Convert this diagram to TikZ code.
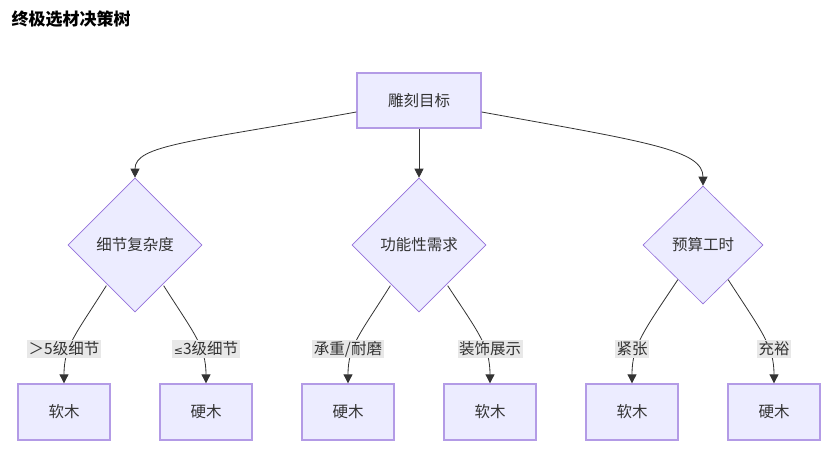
\documentclass[tikz,border=0pt]{standalone}
\usepackage{fontspec}
\setmainfont{Noto Sans CJK SC}
\newfontfamily\symfont{DejaVu Sans}
\usetikzlibrary{shapes.geometric,arrows.meta}
\definecolor{nodefill}{HTML}{ECECFF}
\definecolor{nodeline}{HTML}{9370DB}
\definecolor{edgecol}{HTML}{333333}
\definecolor{lblfill}{HTML}{E8E8E8}
\begin{document}
\begin{tikzpicture}[x=1pt,y=-1pt,
  every node/.style={font=\fontsize{15.5}{18}\selectfont, text=edgecol},
  box/.style={draw=nodeline!70, line width=1.3pt, fill=nodefill, minimum width=92pt, minimum height=56pt, inner sep=0pt},
  topbox/.style={box, minimum width=124pt, minimum height=55pt},
  choice/.style={diamond, draw=nodeline, line width=0.6pt, fill=nodefill, inner sep=0pt, aspect=1},
  lbl/.style={fill=lblfill, inner sep=1.5pt, font=\fontsize{15.5}{18}\selectfont},
  edge/.style={draw=edgecol, line width=0.8pt, -{Triangle[length=9pt,width=9pt]}}
]
\useasboundingbox (0,0) rectangle (840,460);
\node[anchor=west, font=\fontsize{17}{20}\selectfont\bfseries, text=black] (title) at (8,19) {终极选材决策树};

\node[topbox] (root) at (419,100.5) {雕刻目标};
\node[choice, minimum width=134pt, minimum height=134pt] (d1) at (135,245) {细节复杂度};
\node[choice, minimum width=134pt, minimum height=134pt] (d2) at (419,245) {功能性需求};
\node[choice, minimum width=120pt, minimum height=118pt] (d3) at (703,245) {预算工时};

\node[box] (b1) at (64,412) {软木};
\node[box] (b2) at (206,412) {硬木};
\node[box] (b3) at (348,412) {硬木};
\node[box] (b4) at (490,412) {软木};
\node[box] (b5) at (632,412) {软木};
\node[box] (b6) at (774,412) {硬木};

\draw[edge] (root.west |- 0,112) .. controls (190,142) and (135,145) .. (d1.north);
\draw[edge] (root.south) -- (d2.north);
\draw[edge] (root.east |- 0,112) .. controls (648,142) and (703,150) .. (d3.north);

\draw[edge] (d1.south west) ++(5,7) .. controls (76,334) and (64,346) .. (b1.north);
\draw[edge] (d1.south east) ++(-5,7) .. controls (193,332) and (206,346) .. (b2.north);
\draw[edge] (d2.south west) ++(5,7) .. controls (360,334) and (348,346) .. (b3.north);
\draw[edge] (d2.south east) ++(-5,7) .. controls (478,332) and (490,346) .. (b4.north);
\draw[edge] (d3.south west) ++(5,5) .. controls (643,332) and (632,346) .. (b5.north);
\draw[edge] (d3.south east) ++(-5,5) .. controls (762,332) and (774,346) .. (b6.north);

\node[lbl] (l1) at (64,349) {＞5级细节};
\node[lbl] (l2) at (206,349) {{\symfont\fontsize{11}{18}\selectfont ≤}3级细节};
\node[lbl] (l3) at (348,349) {承重/耐磨};
\node[lbl] (l4) at (490,349) {装饰展示};
\node[lbl] (l5) at (632,349) {紧张};
\node[lbl] (l6) at (774,349) {充裕};
\end{tikzpicture}
\end{document}
